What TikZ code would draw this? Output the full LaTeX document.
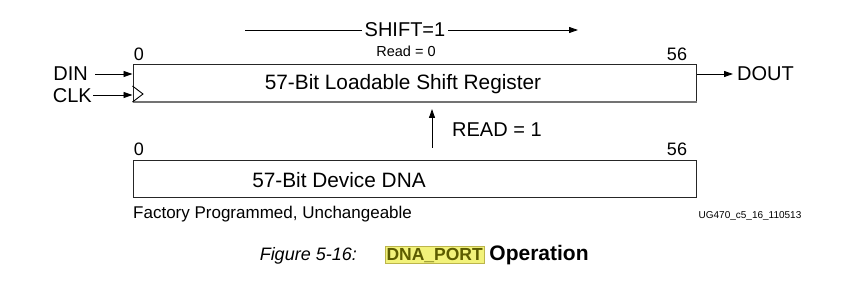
\documentclass[tikz,border=0pt]{standalone}
\usepackage{fontspec}
\setmainfont{Liberation Sans}
\usetikzlibrary{arrows.meta, positioning, calc}
\definecolor{hilite}{HTML}{F2F27A}
\definecolor{hiltext}{HTML}{5C5C00}
\tikzset{
	regbox/.style={rectangle, draw=black!85, line width=1pt, minimum width=563pt,
		minimum height=37pt, inner sep=0pt},
	lbl/.style={font=\fontsize{20.8}{23}\selectfont, inner sep=0pt},
	pinlbl/.style={font=\fontsize{20}{22}\selectfont, inner sep=0pt},
	bitlbl/.style={font=\fontsize{18}{20}\selectfont, inner sep=0pt},
	tinylbl/.style={font=\fontsize{14.5}{16}\selectfont, inner sep=0pt},
	notelbl/.style={font=\fontsize{17}{19}\selectfont, inner sep=0pt},
	arrow/.style={-{Triangle[length=9pt,width=6pt]}, line width=0.9pt},
}

\begin{document}
\begin{tikzpicture}[x=1pt, y=-1pt]
	\useasboundingbox (0,0) rectangle (860,294);
	% shift register
	\node[regbox] (reg) at (414.5,83.5) {};
	\draw[black!55, line width=2pt] (reg.south west) -- (reg.south east);
	\node[lbl] (regtxt) at (403,84) {57-Bit Loadable Shift Register};
	\node[bitlbl] (rzero) at (139,54) {0};
	\node[bitlbl] (rend) at (677,54) {56};
	\node[tinylbl] (rd0) at (406,51) {Read = 0};
	\draw[line width=0.9pt] (reg.west |- 0,86) -- (143,94) -- (reg.west |- 0,102);
	% shift direction
	\node[pinlbl, inner xsep=3pt] (shift) at (405,30) {SHIFT=1};
	\coordinate (sl) at (245,30);
	\coordinate (sr) at (578,30);
	\draw[line width=0.9pt] (sl) -- (shift.west);
	\draw[arrow] (shift.east) -- (sr);
	% pins
	\node[pinlbl, anchor=east] (din) at (88,74) {DIN};
	\node[pinlbl, anchor=east] (clk) at (92,96) {CLK};
	\node[pinlbl, anchor=west] (dout) at (737,74) {DOUT};
	\draw[arrow] ([xshift=7pt]din.east) -- (din.east -| reg.west);
	\draw[arrow] ([xshift=1pt,yshift=1pt]clk.east) -- (reg.west |- 0,95);
	\draw[arrow] (reg.east |- dout) -- ([xshift=-4pt]dout.west);
	% device DNA
	\node[regbox] (dna) at (414.5,179) {};
	\node[lbl] (dnatxt) at (339,180) {57-Bit Device DNA};
	\node[bitlbl] (dzero) at (139,149) {0};
	\node[bitlbl] (dend) at (677,149) {56};
	\node[notelbl, anchor=west] (fact) at (133,214) {Factory Programmed, Unchangeable};
	\node[font=\fontsize{10}{11}\selectfont, inner sep=0pt] (tag) at (750,216) {UG470\_c5\_16\_110513};
	% read path
	\coordinate (rdlo) at (432,148);
	\draw[arrow] (rdlo) -- (rdlo |- 0,109);
	\node[pinlbl, anchor=west] (rd1) at (452,130) {READ = 1};
	% caption
	\node[font=\fontsize{18}{20}\selectfont\itshape, inner sep=0pt, anchor=east] (fig) at (357,256) {Figure 5-16:};
	\node[font=\fontsize{17.5}{20}\selectfont\bfseries, fill=hilite, draw=olive!60, line width=0.6pt,
		text=hiltext, inner sep=1.2pt, anchor=west] (port) at (385,255) {DNA\_PORT};
	\node[font=\fontsize{21}{23}\selectfont\bfseries, inner sep=0pt, anchor=west] (op) at ([xshift=5pt]port.east) {Operation};
\end{tikzpicture}
\end{document}
